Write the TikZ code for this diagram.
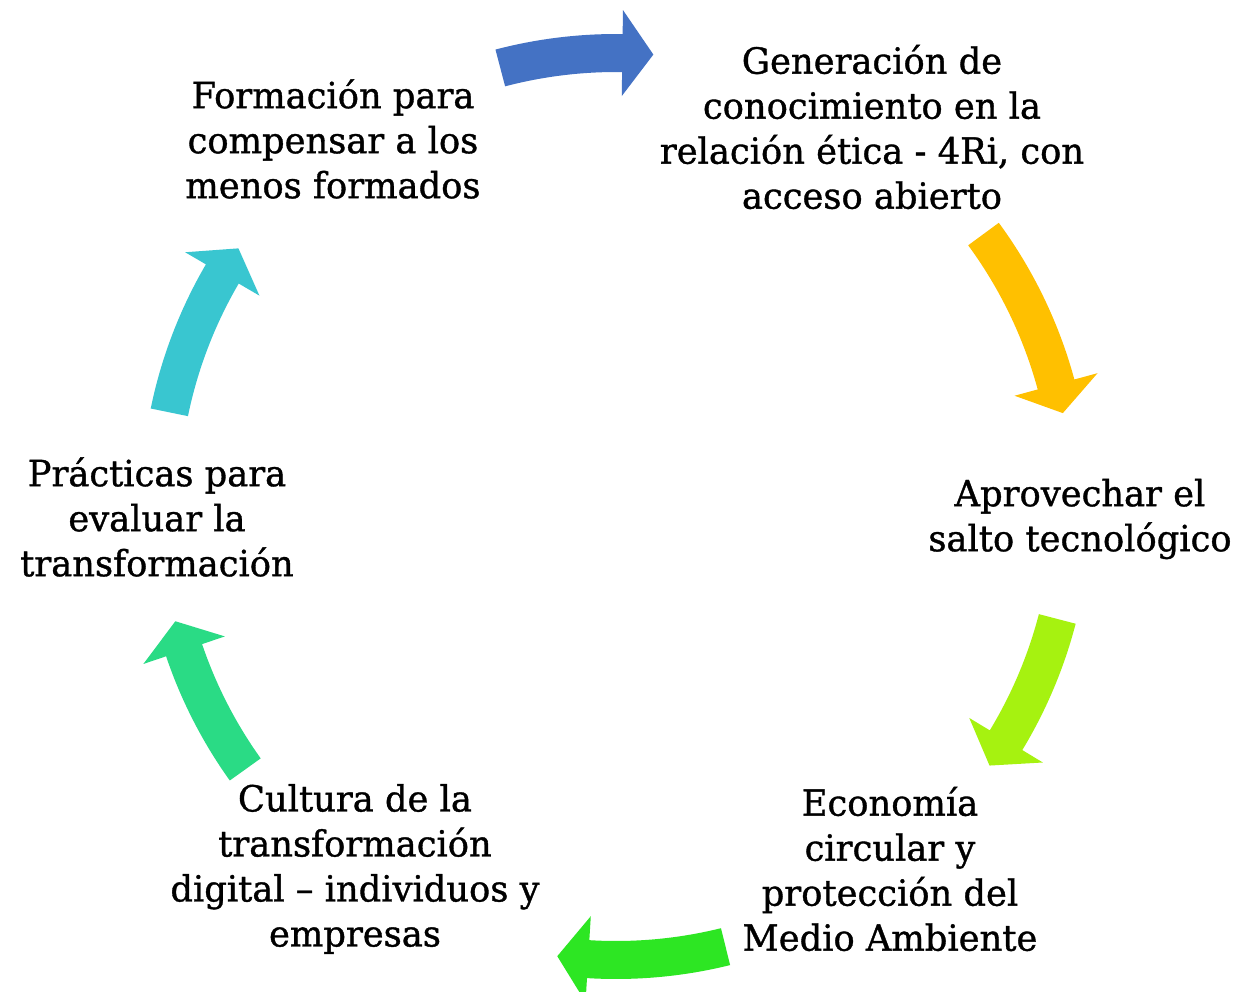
\documentclass[tikz,border=0pt]{standalone}
\usepackage{fontspec}
\setmainfont[FakeStretch=0.98, FakeBold=1]{DejaVu Serif}
\definecolor{cBlue}{RGB}{68,114,196}
\definecolor{cGold}{RGB}{255,192,0}
\definecolor{cLime}{RGB}{166,242,16}
\definecolor{cGreen}{RGB}{45,230,35}
\definecolor{cTeal}{RGB}{42,219,133}
\definecolor{cCyan}{RGB}{57,198,208}
% circular block arrow: style, start angle, head-base angle, tip angle
\newcommand\cycarrow[4]{%
  \fill[shift={(C)}, #1] (#2:475pt) arc[start angle=#2, end angle=#3, radius=475pt]
    -- (#3:499pt) -- (#4:456pt) -- (#3:413pt) -- (#3:437pt)
    arc[start angle=#3, end angle=#2, radius=437pt] -- cycle;}
\begin{document}
\begin{tikzpicture}[x=1pt,y=-1pt]
\tikzset{lbl/.style={align=center, font=\fontsize{36}{45}\selectfont, inner sep=0pt, text=black}}
\useasboundingbox (0,0) rectangle (1239,991);
\fill[white] (0,0) rectangle (1239,991);
\coordinate (C) at (616,504);

\cycarrow{cBlue, yshift=-5pt}{104.7}{89.2}{85.3}
\cycarrow{cGold}{36.3}{15.2}{11.5}
\cycarrow{cLime}{-14.6}{-31.2}{-35.0}
\cycarrow{cGreen}{-76.1}{-93.5}{-97.4}
\cycarrow{cTeal}{215.6}{198.7}{194.9}
\cycarrow{cCyan}{168.4}{149.7}{145.9}

\node[lbl] (gen) at (872,127) {Generación de\\conocimiento en la\\relación ética - 4Ri, con\\acceso abierto};
\node[lbl] (apr) at (1080,519) {Aprovechar el\\salto tecnológico};
\node[lbl] (eco) at (890,869) {Economía\\circular y\\protección del\\Medio Ambiente};
\node[lbl] (cul) at (355,869) {Cultura de la\\transformación\\digital – individuos y\\empresas};
\node[lbl] (pra) at (157,517) {Prácticas para\\evaluar la\\transformación};
\node[lbl] (for) at (333,139) {Formación para\\compensar a los\\menos formados};
\end{tikzpicture}
\end{document}
